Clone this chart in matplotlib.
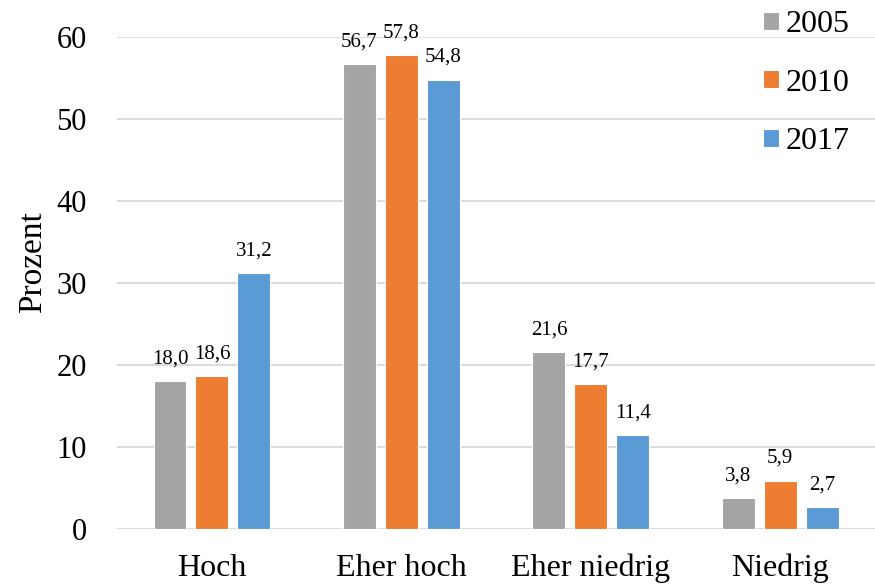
import matplotlib
matplotlib.use("Agg")
import matplotlib.pyplot as plt
import numpy as np

plt.rcParams['font.family'] = ['Liberation Serif', 'DejaVu Serif']

categories = ["Hoch", "Eher hoch", "Eher niedrig", "Niedrig"]
years = ["2005", "2010", "2017"]
values_2005 = [18.0, 56.7, 21.6, 3.8]
values_2010 = [18.6, 57.8, 17.7, 5.9]
values_2017 = [31.2, 54.8, 11.4, 2.7]
colors = ["#A5A5A5", "#ED7D31", "#5B9BD5"]

fig = plt.figure(figsize=(8.75, 5.86), dpi=100)
ax = fig.add_axes([0.134, 0.0973, 0.866, 0.8397])

x = np.arange(len(categories))
width = 0.174
step = 0.2215
for i, (vals, year) in enumerate(zip([values_2005, values_2010, values_2017], years)):
    pos = x + (i - 1) * step
    bars = ax.bar(pos, vals, width, color=colors[i], edgecolor="white",
                  linewidth=0.8, label=year, zorder=3)
    for b, v in zip(bars, vals):
        ax.text(b.get_x() + b.get_width() / 2, v + 1.55, f"{v:.1f}".replace(".", ","),
                ha="center", va="bottom", fontsize=15, clip_on=False)

ax.set_ylim(0, 60)
ax.set_xlim(-0.5, 3.5)
ax.set_yticks(range(0, 61, 10))
ax.set_xticks(x)
ax.set_xticklabels(categories, fontsize=23)
ax.tick_params(axis="y", labelsize=22, length=0, pad=22)
ax.tick_params(axis="x", length=0, pad=18)
ax.grid(axis="y", color="#D9D9D9", linewidth=1.3, zorder=0)
for s in ax.spines.values():
    s.set_visible(False)
ax.set_ylabel("Prozent", fontsize=24, labelpad=6, y=0.543)

ax.legend(loc="upper right", bbox_to_anchor=(1.004, 1.032), bbox_transform=fig.transFigure,
          frameon=False, fontsize=23, handlelength=0.5, handleheight=0.5,
          handletextpad=0.2, labelspacing=0.93)

fig.savefig("out.png", dpi=100)
